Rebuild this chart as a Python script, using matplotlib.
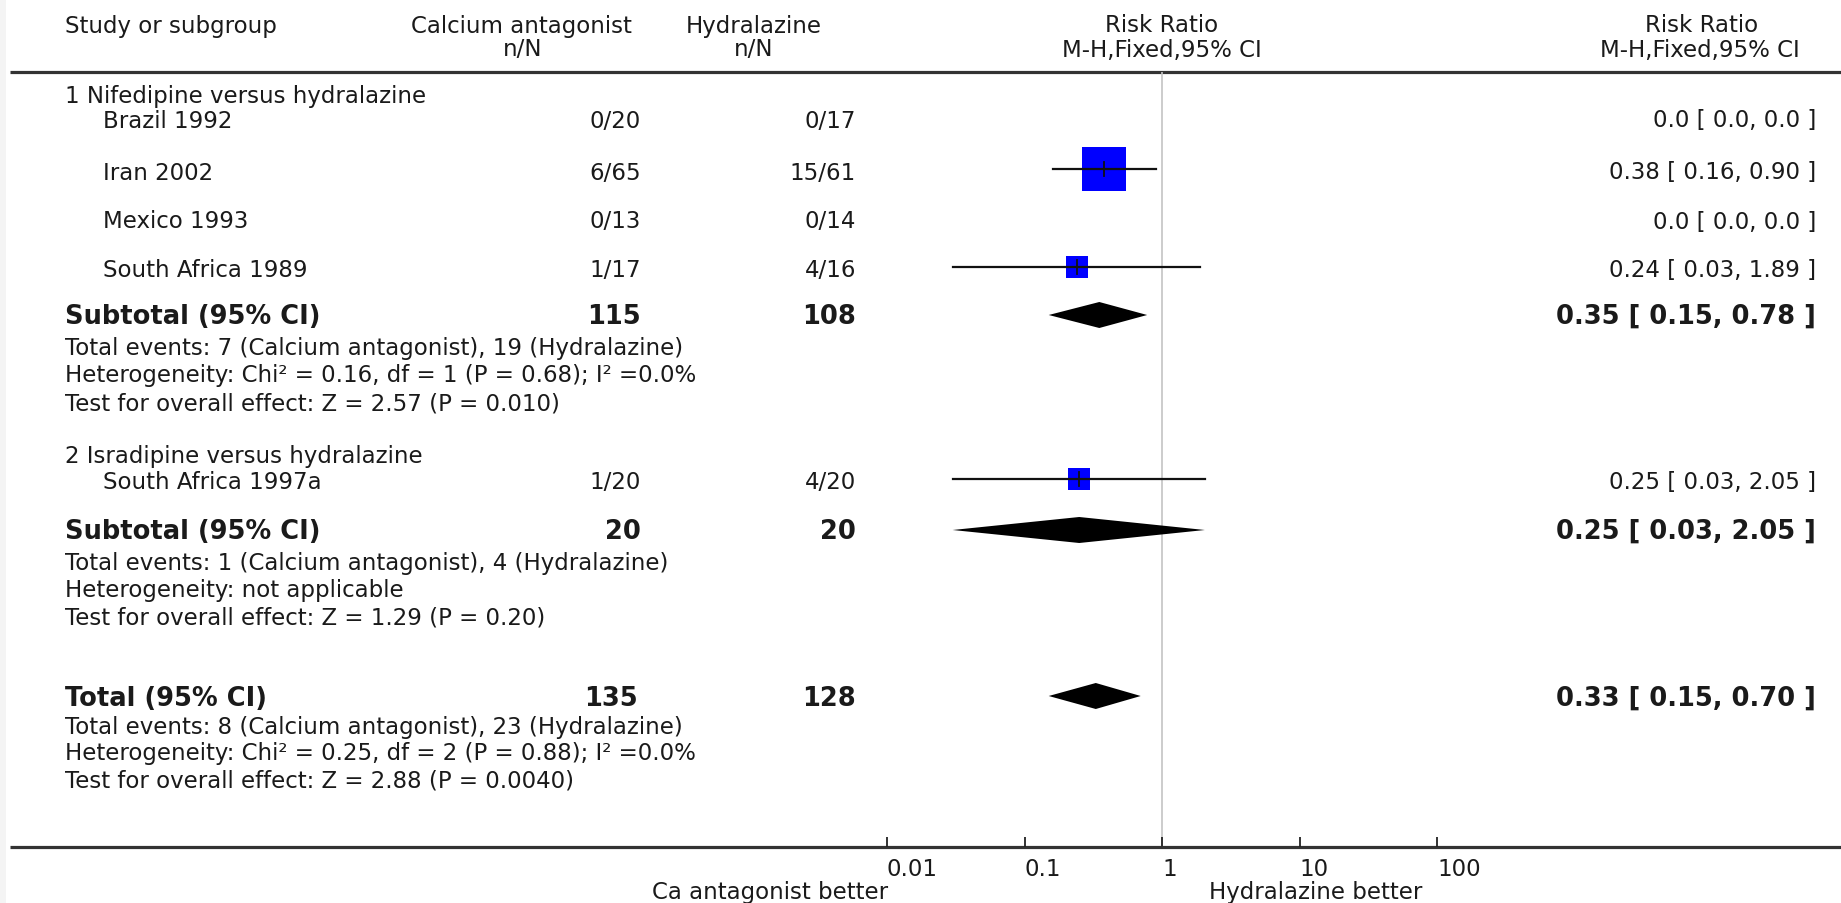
import matplotlib
matplotlib.use("Agg")
import matplotlib.pyplot as plt
import numpy as np

# data
studies = ["Brazil 1992", "Iran 2002", "Mexico 1993", "South Africa 1989", "South Africa 1997a"]
ca_n = ["0/20", "6/65", "0/13", "1/17", "1/20"]
hy_n = ["0/17", "15/61", "0/14", "4/16", "4/20"]
rr = [np.nan, 0.38, np.nan, 0.24, 0.25]
rr_lo = [np.nan, 0.16, np.nan, 0.03, 0.03]
rr_hi = [np.nan, 0.90, np.nan, 1.89, 2.05]
weights = [0, 65.6, 0, 17.5, 16.9]
rr_txt = ["0.0 [ 0.0, 0.0 ]", "0.38 [ 0.16, 0.90 ]", "0.0 [ 0.0, 0.0 ]",
          "0.24 [ 0.03, 1.89 ]", "0.25 [ 0.03, 2.05 ]"]

group_titles = ["1 Nifedipine versus hydralazine", "2 Isradipine versus hydralazine"]
sub_ca = ["115", "20"]
sub_hy = ["108", "20"]
sub_rr = [0.35, 0.25]
sub_lo = [0.15, 0.03]
sub_hi = [0.78, 2.05]
sub_txt = ["0.35 [ 0.15, 0.78 ]", "0.25 [ 0.03, 2.05 ]"]
sub_notes = [
    ["Total events: 7 (Calcium antagonist), 19 (Hydralazine)",
     "Heterogeneity: Chi\u00b2 = 0.16, df = 1 (P = 0.68); I\u00b2 =0.0%",
     "Test for overall effect: Z = 2.57 (P = 0.010)"],
    ["Total events: 1 (Calcium antagonist), 4 (Hydralazine)",
     "Heterogeneity: not applicable",
     "Test for overall effect: Z = 1.29 (P = 0.20)"],
]

tot_ca, tot_hy = "135", "128"
tot_rr, tot_lo, tot_hi = 0.33, 0.15, 0.70
tot_txt = "0.33 [ 0.15, 0.70 ]"
tot_notes = ["Total events: 8 (Calcium antagonist), 23 (Hydralazine)",
             "Heterogeneity: Chi\u00b2 = 0.25, df = 2 (P = 0.88); I\u00b2 =0.0%",
             "Test for overall effect: Z = 2.88 (P = 0.0040)"]

ticks = [0.01, 0.1, 1, 10, 100]
tick_labels = ["0.01", "0.1", "1", "10", "100"]

# layout (pixel rows)
W, H = 1841, 904
study_y = [121, 173, 222, 271, 483]
title_y = [97, 457]
sub_y = [317, 532]
note_y = [[349, 376, 404], [564, 591, 618]]
tot_y = 699
tot_note_y = [728, 754, 781]
top_line, axis_line = 73, 848
X_NAME, X_IND = 65, 103
X_CA, X_HY = 641, 856
X_RR = 1816
FS, FSB = 16.5, 18.5
TXT = "#1a1a1a"

plt.rcParams["font.family"] = ["DejaVu Sans"]
fig = plt.figure(figsize=(W / 100, H / 100), dpi=100)
ax = fig.add_axes([0, 0, 1, 1])
ax.set_xlim(0, W)
ax.set_ylim(H, 0)
ax.axis("off")

# forest axes: 0.01 at x=887, 100 at x=1437
fx = fig.add_axes([887 / W, (H - axis_line) / H, 550 / W, (axis_line - top_line) / H])
fx.set_xscale("log")
fx.set_xlim(0.01, 100)
fx.set_ylim(axis_line, top_line)
fx.patch.set_visible(False)
for s in fx.spines.values():
    s.set_visible(False)
fx.set_yticks([])
fx.set_xticks(ticks)
fx.set_xticklabels(tick_labels, ha="left")
fx.xaxis.set_minor_locator(matplotlib.ticker.NullLocator())
fx.tick_params(axis="x", direction="in", length=7, width=1.3, color="#222222",
               pad=7, labelsize=FS, labelcolor=TXT)

# light frame strip on the left
ax.add_patch(plt.Rectangle((0, 0), 6, H, color="#f4f4f4", lw=0))

# header
ax.text(X_NAME, 26, "Study or subgroup", fontsize=FS, color=TXT, va="center")
ax.text(521, 26, "Calcium antagonist", fontsize=FS, color=TXT, va="center", ha="center")
ax.text(523, 50, "n/N", fontsize=FS, color=TXT, va="center", ha="center")
ax.text(754, 26, "Hydralazine", fontsize=FS, color=TXT, va="center", ha="center")
ax.text(754, 50, "n/N", fontsize=FS, color=TXT, va="center", ha="center")
ax.text(1162, 26, "Risk Ratio", fontsize=FS, color=TXT, va="center", ha="center")
ax.text(1162, 50, "M-H,Fixed,95% CI", fontsize=FS, color=TXT, va="center", ha="center")
ax.text(1702, 26, "Risk Ratio", fontsize=FS, color=TXT, va="center", ha="center")
ax.text(1700, 50, "M-H,Fixed,95% CI", fontsize=FS, color=TXT, va="center", ha="center")

# horizontal rules
ax.plot([10, W], [top_line, top_line], color="#333333", lw=2.3, solid_capstyle="butt")
ax.plot([10, W], [axis_line, axis_line], color="#333333", lw=2.3, solid_capstyle="butt")
fx.plot([1, 1], [top_line, axis_line], color="#c4c4c4", lw=1.2, zorder=1)

# group titles
for t, y in zip(group_titles, title_y):
    ax.text(X_NAME, y, t, fontsize=FS, color=TXT, va="center")

# studies
wmax = max(weights)
for i, name in enumerate(studies):
    y = study_y[i]
    ax.text(X_IND, y, name, fontsize=FS, color=TXT, va="center")
    ax.text(X_CA, y, ca_n[i], fontsize=FS, color=TXT, va="center", ha="right")
    ax.text(X_HY, y, hy_n[i], fontsize=FS, color=TXT, va="center", ha="right")
    ax.text(X_RR, y, rr_txt[i], fontsize=FS, color=TXT, va="center", ha="right")
    if np.isfinite(rr[i]):
        ym = y - 3
        side = 44 * np.sqrt(weights[i] / wmax) * 0.72
        fx.scatter([rr[i]], [ym], marker="s", s=side ** 2, color="#0000ff", zorder=3, lw=0)
        fx.plot([rr_lo[i], rr_hi[i]], [ym, ym], color="#111111", lw=1.6, zorder=4)
        fx.plot([rr[i], rr[i]], [ym - 7, ym + 7], color="#111111", lw=1.3, zorder=4)

# subtotals
for g in range(2):
    y = sub_y[g]
    ax.text(X_NAME, y, "Subtotal (95% CI)", fontsize=FSB, fontweight="bold", color=TXT, va="center")
    ax.text(X_CA, y, sub_ca[g], fontsize=FSB, fontweight="bold", color=TXT, va="center", ha="right")
    ax.text(X_HY, y, sub_hy[g], fontsize=FSB, fontweight="bold", color=TXT, va="center", ha="right")
    ax.text(X_RR, y, sub_txt[g], fontsize=FSB, fontweight="bold", color=TXT, va="center", ha="right")
    yd = y - 1
    fx.fill([sub_lo[g], sub_rr[g], sub_hi[g], sub_rr[g]], [yd, yd - 13, yd, yd + 13],
            color="black", lw=0, zorder=3)
    for line, ny in zip(sub_notes[g], note_y[g]):
        ax.text(X_NAME, ny, line, fontsize=FS, color=TXT, va="center")

# overall total
ax.text(X_NAME, tot_y, "Total (95% CI)", fontsize=FSB, fontweight="bold", color=TXT, va="center")
ax.text(638, tot_y, tot_ca, fontsize=FSB, fontweight="bold", color=TXT, va="center", ha="right")
ax.text(X_HY, tot_y, tot_hy, fontsize=FSB, fontweight="bold", color=TXT, va="center", ha="right")
ax.text(X_RR, tot_y, tot_txt, fontsize=FSB, fontweight="bold", color=TXT, va="center", ha="right")
yd = tot_y - 2
fx.fill([tot_lo, tot_rr, tot_hi, tot_rr], [yd, yd - 13, yd, yd + 13], color="black", lw=0, zorder=3)
for line, ny in zip(tot_notes, tot_note_y):
    ax.text(X_NAME, ny, line, fontsize=FS, color=TXT, va="center")

# favours labels
ax.text(888, 893, "Ca antagonist better", fontsize=FS, color=TXT, va="center", ha="right")
ax.text(1209, 893, "Hydralazine better", fontsize=FS, color=TXT, va="center", ha="left")

fig.savefig("out.png", dpi=100)
